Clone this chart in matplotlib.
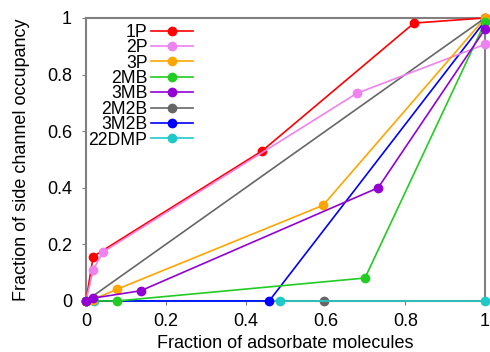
import matplotlib.pyplot as plt

plt.rcParams['font.family'] = ['Liberation Sans', 'DejaVu Sans']

names = ["1P", "2P", "3P", "2MB", "3MB", "2M2B", "3M2B", "22DMP"]
colors = ["#ff0000", "#ee82ee", "#ffa500", "#22cc22", "#9400d3", "#666666", "#0000ff", "#20c8c8"]

# fraction of adsorbate molecules (x) and side channel occupancy (y)
x_1p = [0.0, 0.018, 0.442, 0.822, 1.0]
y_1p = [0.0, 0.157, 0.531, 0.982, 1.0]
x_2p = [0.0, 0.018, 0.042, 0.679, 1.0]
y_2p = [0.0, 0.110, 0.172, 0.734, 0.907]
x_3p = [0.0, 0.018, 0.077, 0.594, 1.0]
y_3p = [0.0, 0.005, 0.041, 0.338, 1.0]
x_2mb = [0.0, 0.078, 0.699, 1.0]
y_2mb = [0.0, 0.0, 0.081, 0.985]
x_3mb = [0.0, 0.018, 0.137, 0.732, 1.0]
y_3mb = [0.0, 0.01, 0.036, 0.40, 0.961]
x_2m2b = [0.597, 0.0, 1.0]
y_2m2b = [0.0, 0.0, 1.0]
x_3m2b = [0.0, 0.459, 1.0]
y_3m2b = [0.0, 0.0, 0.99]
x_22dmp = [0.0, 0.02, 0.486, 1.0]
y_22dmp = [0.0, 0.0, 0.0, 0.0]

xs = [x_1p, x_2p, x_3p, x_2mb, x_3mb, x_2m2b, x_3m2b, x_22dmp]
ys = [y_1p, y_2p, y_3p, y_2mb, y_3mb, y_2m2b, y_3m2b, y_22dmp]
zorders = [3, 3, 3, 3, 3, 2.5, 2.8, 2.6]

fig = plt.figure(figsize=(4.9, 3.52), dpi=100)
ax = fig.add_axes([0.1755, 0.145, 0.8145, 0.804])

for x, y, c, n, z in zip(xs, ys, colors, names, zorders):
    ax.plot(x, y, color=c, lw=1.2, marker="o", ms=6, label=n, zorder=z,
            clip_on=False)

ax.set_xlim(0, 1)
ax.set_ylim(0, 1)
ax.set_xticks([0, 0.2, 0.4, 0.6, 0.8, 1])
ax.set_xticklabels(["0", "0.2", "0.4", "0.6", "0.8", "1"])
ax.set_yticks([0, 0.2, 0.4, 0.6, 0.8, 1])
ax.set_yticklabels(["0", "0.2", "0.4", "0.6", "0.8", "1"])
ax.tick_params(labelsize=13, length=3, color="#808080")
ax.tick_params(axis="x", pad=6)
ax.tick_params(axis="y", pad=7)
for s in ax.spines.values():
    s.set_color("#808080")
    s.set_linewidth(1.5)

ax.set_xlabel("Fraction of adsorbate molecules", fontsize=13, labelpad=3)
ax.set_ylabel("Fraction of side channel occupancy", fontsize=13, labelpad=12)

ax.legend(loc="upper left", bbox_to_anchor=(-0.02, 1.017), markerfirst=False,
          frameon=False, fontsize=12.7, labelspacing=-0.09, handlelength=2.4,
          handletextpad=0.2, borderaxespad=0.2)

fig.savefig("out.png", dpi=100)
